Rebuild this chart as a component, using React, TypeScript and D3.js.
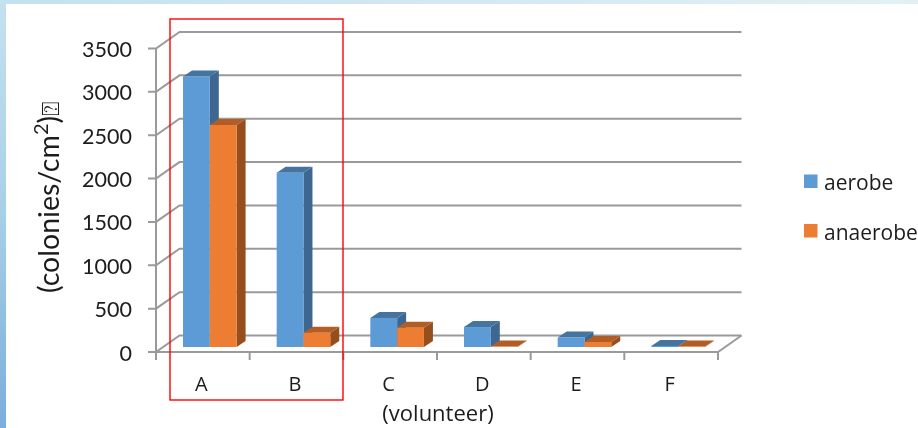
import React from "react";
import * as d3 from "d3";

const categories = ["A", "B", "C", "D", "E", "F"];
const aerobe = [3120, 2010, 335, 230, 110, 12];
const anaerobe = [2560, 165, 222, 5, 58, 5];
const yTicks = [0, 500, 1000, 1500, 2000, 2500, 3000, 3500];
const seriesNames = ["aerobe", "anaerobe"];

const W = 918, H = 428;
const FONT = "Lato, 'Open Sans', sans-serif";
const FONT2 = "'Open Sans', sans-serif";
const TXT = "#1c1c1c";
const GRID = "#9a9a9a";
const BLUE = "#5b9bd5", BLUE_TOP = "#44749f", BLUE_SIDE = "#3c6690";
const OR = "#ed7d31", OR_TOP = "#b25d25", OR_SIDE = "#964f1d";

const x0 = 156, x1 = 718, yBase = 352, yTopV = 48.5;
const dxWall = 23.5, dyWall = -16.5;
const y = d3.scaleLinear().domain([0, 3500]).range([yBase, yTopV]);
const xBand = d3.scaleBand<string>().domain(categories).range([x0, x1]);
const poly = (pts: [number, number][]) => pts.map(p => p.join(",")).join(" ");

function Bar({ x, w, v, front, top, side }: { x: number; w: number; v: number; front: string; top: string; side: string }) {
  const dx = 9, dy = -6, lift = 5;
  const base = yBase - lift;
  const t = base - (yBase - y(v));
  return (
    <g>
      <polygon points={poly([[x + w, t], [x + w + dx, t + dy], [x + w + dx, base + dy], [x + w, base]])} fill={side} />
      <polygon points={poly([[x, t], [x + dx, t + dy], [x + w + dx, t + dy], [x + w, t]])} fill={top} />
      <rect x={x} y={t} width={w} height={base - t} fill={front} />
    </g>
  );
}

export default function App() {
  const bw = 26.8;
  return (
    <svg width={W} height={H} viewBox={`0 0 ${W} ${H}`} style={{ position: "absolute", left: 0, top: 0, display: "block" }}>
      <defs>
        <linearGradient id="lft" x1="0" y1="0" x2="0" y2="1">
          <stop offset="0" stopColor="#c4e1ef" />
          <stop offset="0.5" stopColor="#a8cfe8" />
          <stop offset="1" stopColor="#7aaedc" />
        </linearGradient>
        <linearGradient id="tp" x1="0" y1="0" x2="1" y2="0">
          <stop offset="0" stopColor="#c4e1ef" />
          <stop offset="1" stopColor="#e2f0f6" />
        </linearGradient>
        <filter id="soft" x="0" y="0" width="1" height="1" filterUnits="objectBoundingBox">
          <feGaussianBlur stdDeviation="0.4" />
        </filter>
      </defs>
      <rect width={W} height={H} fill="#fff" />
      <rect width={W} height={4} fill="url(#tp)" />
      <rect width={6} height={H} fill="url(#lft)" />
      <g filter="url(#soft)">
        <rect width={W} height={H} fill="none" />
        {/* walls and gridlines */}
        <g fill="none" stroke={GRID} strokeWidth={2}>
          {yTicks.map(t => (
            <polyline key={t} points={poly([[x0 - 8, y(t)], [x0, y(t)], [x0 + dxWall, y(t) + dyWall], [x1 + dxWall, y(t) + dyWall]])} />
          ))}
          <line x1={x0} x2={x0} y1={y(3500)} y2={yBase + 8} />
          <polyline points={poly([[x0, yBase], [x1, yBase], [x1 + dxWall, yBase + dyWall]])} />
          {[...categories.map(c => xBand(c)! + xBand.bandwidth()), x0].map((t, i) => (
            <line key={i} x1={t} x2={t} y1={yBase} y2={yBase + 8} />
          ))}
        </g>
        {/* bars */}
        {[...categories.keys()].map(i => {
          const left = xBand(categories[i])! + 27;
          return (
            <g key={categories[i]}>
              <Bar x={left} w={bw} v={aerobe[i]} front={BLUE} top={BLUE_TOP} side={BLUE_SIDE} />
              <Bar x={left + bw} w={bw} v={anaerobe[i]} front={OR} top={OR_TOP} side={OR_SIDE} />
            </g>
          );
        })}
        {/* tick labels */}
        <g fontFamily={FONT} fontSize={21.5} fill={TXT}>
          {yTicks.map(t => (
            <text key={t} x={132} y={y(t) + 8.5} textAnchor="end">{t}</text>
          ))}
        </g>
        <g fontFamily={FONT2} fontSize={20} fill={TXT} textAnchor="middle">
          {categories.map(c => (
            <text key={c} x={xBand(c)! + xBand.bandwidth() / 2 - 1.5} y={391}>{c}</text>
          ))}
          <text x={438} fontSize={22} y={421}>(volunteer)</text>
        </g>
        <text transform="translate(59,293) rotate(-90)" fontFamily={FONT} fontSize={28.5} fill={TXT}>
          (colonies/cm<tspan dy={-11} fontSize={20}>2</tspan><tspan dy={11}>)</tspan><tspan fontSize={24} fontFamily="'DejaVu Sans'">⍰</tspan>
        </text>
        {/* legend */}
        <g fontFamily={FONT2} fontSize={21} fill={TXT}>
          {seriesNames.map((n, i) => (
            <g key={n}>
              <rect x={804} y={174.5 + i * 49.5} width={13.5} height={13.5} fill={i === 0 ? BLUE : OR} />
              <text x={824} y={190 + i * 49.5}>{n}</text>
            </g>
          ))}
        </g>
      </g>
      {/* highlight frame */}
      <rect x={170} y={19} width={173} height={381} fill="none" stroke="#ff0000" strokeWidth={1.4} />
    </svg>
  );
}
